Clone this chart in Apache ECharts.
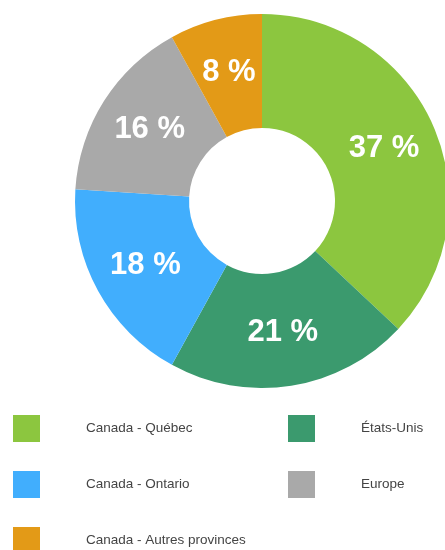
<!DOCTYPE html>
<html>
<head>
<meta charset="utf-8">
<script src="https://cdn.jsdelivr.net/npm/echarts@6/dist/echarts.min.js"></script>
<style>
  html, body { margin: 0; padding: 0; background: #fff; }
  #main { width: 445px; height: 550px; }
</style>
</head>
<body>
<div id="main"></div>
<script>
// données du graphique (répartition en %)
var categories = ['Canada - Québec', 'États-Unis', 'Canada - Ontario', 'Europe', 'Canada - Autres provinces'];
var values = [37, 21, 18, 16, 8];
var colors = ['#8cc63f', '#3b9a6e', '#41aefd', '#a9a9a9', '#e39a17'];

// colonnes de la légende
var legendLeft = ['Canada - Québec', 'Canada - Ontario', 'Canada - Autres provinces'];
var legendRight = ['États-Unis', 'Europe'];

var pieData = [];
for (var i = 0; i < categories.length; i++) {
    pieData.push({ name: categories[i], value: values[i], itemStyle: { color: colors[i] } });
}

var legendText = {
    fontFamily: '"Liberation Sans", Arial, sans-serif',
    fontSize: 13.5,
    color: '#444',
    padding: [0, 0, 0, 41]
};

var myChart = echarts.init(document.getElementById('main'));
myChart.setOption({
    animation: false,
    legend: [
        {
            orient: 'vertical',
            left: 8,
            top: 410,
            height: 170,
            itemWidth: 27,
            itemHeight: 27,
            itemGap: 29,
            icon: 'rect',
            selectedMode: false,
            data: legendLeft,
            textStyle: legendText
        },
        {
            orient: 'vertical',
            left: 283,
            top: 410,
            height: 170,
            itemWidth: 27,
            itemHeight: 27,
            itemGap: 29,
            icon: 'rect',
            selectedMode: false,
            data: legendRight,
            textStyle: legendText
        }
    ],
    series: [
        {
            name: 'Répartition',
            type: 'pie',
            center: [262, 201],
            radius: [73, 187],
            startAngle: 90,
            clockwise: true,
            avoidLabelOverlap: false,
            label: {
                show: true,
                position: 'inside',
                formatter: '{c} %',
                color: '#fff',
                fontFamily: '"Liberation Sans", Arial, sans-serif',
                fontWeight: 'bold',
                fontSize: 31
            },
            labelLine: { show: false },
            emphasis: { disabled: true },
            data: pieData
        }
    ]
});
</script>
</body>
</html>
